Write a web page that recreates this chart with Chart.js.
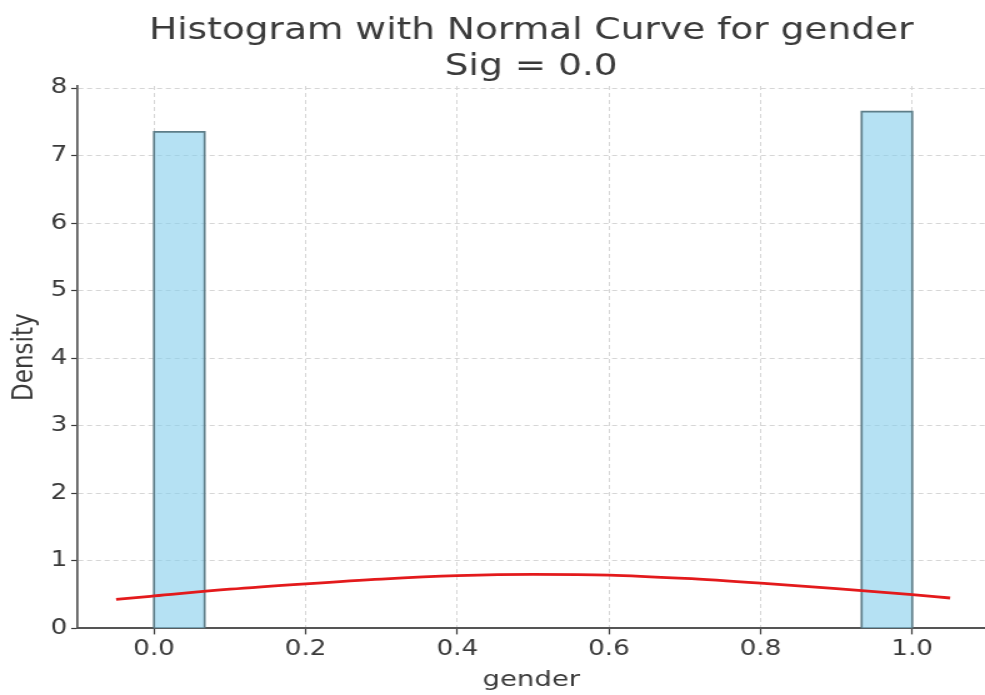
<!DOCTYPE html>
<html>
<head>
<meta charset="utf-8">
<script src="https://cdn.jsdelivr.net/npm/chart.js@4/dist/chart.umd.min.js"></script>
<style>
html,body{margin:0;padding:0;background:#fff;overflow:hidden;}
#wrap{width:985px;height:695px;position:relative;}
#c{display:block;width:985px;height:695px;}
</style>
</head>
<body>
<div id="wrap"><canvas id="c" width="788" height="695" style="width:985px;height:695px;"></canvas></div>
<script>
// Data
const binEdges = [[0.0, 0.0667], [0.9333, 1.0]];
const binDensity = [7.35, 7.65];
const curveX = [-0.05, 0.0, 0.1, 0.2, 0.3, 0.4, 0.5, 0.6, 0.7, 0.8, 0.9, 1.0, 1.05];
const curveY = [0.43, 0.48, 0.58, 0.66, 0.73, 0.78, 0.80, 0.79, 0.74, 0.67, 0.59, 0.50, 0.45];
const xTicks = [0.0, 0.2, 0.4, 0.6, 0.8, 1.0];
const yTicks = [0, 1, 2, 3, 4, 5, 6, 7, 8];
const titleLines = ['Histogram with Normal Curve for gender', 'Sig = 0.0'];

const barDatasets = binEdges.map((e, i) => ({
  type: 'line',
  data: [{x: e[0], y: 0}, {x: e[0], y: binDensity[i]}, {x: e[1], y: binDensity[i]}, {x: e[1], y: 0}],
  borderColor: '#5d7d88',
  borderWidth: 1.7,
  backgroundColor: 'rgba(135,206,235,0.62)',
  fill: 'origin',
  pointRadius: 0,
  tension: 0,
  order: 2
}));

const curveDataset = {
  type: 'line',
  data: curveX.map((x, i) => ({x: x, y: curveY[i]})),
  borderColor: '#e31a1c',
  borderWidth: 2.8,
  fill: false,
  pointRadius: 0,
  cubicInterpolationMode: 'monotone',
  order: 1
};

const textColor = '#3a3a3a';
const font = 'DejaVu Sans';

new Chart(document.getElementById('c'), {
  type: 'line',
  data: { datasets: [...barDatasets, curveDataset] },
  options: {
    responsive: false,
    animation: false,
    devicePixelRatio: 1,
    layout: { padding: { left: 6, right: 0, top: 13, bottom: 2 } },
    plugins: {
      legend: { display: false },
      tooltip: { enabled: false },
      title: {
        display: true,
        text: titleLines,
        color: textColor,
        fullSize: false,
        font: { family: font, size: 30, weight: 'normal', lineHeight: 1.2 },
        padding: { top: 0, bottom: 1 }
      }
    },
    scales: {
      x: {
        type: 'linear',
        min: -0.101,
        max: 1.096,
        afterBuildTicks: (s) => { s.ticks = xTicks.map(v => ({value: v})); },
        ticks: {
          color: textColor,
          font: { family: font, size: 21 },
          padding: 3,
          maxRotation: 0,
          callback: (v) => v.toFixed(1)
        },
        grid: {
          color: '#d6d6d6',
          lineWidth: 1,
          tickColor: '#3a3a3a',
          tickLength: 6,
          tickWidth: 1.2,
          drawOnChartArea: true
        },
        border: { display: true, color: '#555', width: 2, dash: [4, 3] },
        title: {
          display: true,
          text: 'gender',
          color: textColor,
          font: { family: font, size: 22 },
          padding: { top: 1, bottom: 0 }
        }
      },
      y: {
        type: 'linear',
        min: 0,
        max: 8.03,
        afterBuildTicks: (s) => { s.ticks = yTicks.map(v => ({value: v})); },
        ticks: {
          color: textColor,
          font: { family: font, size: 21 },
          padding: 3
        },
        grid: {
          color: '#d6d6d6',
          lineWidth: 1,
          tickColor: '#3a3a3a',
          tickLength: 5,
          tickWidth: 1.2
        },
        border: { display: true, color: '#555', width: 1.7, dash: [4, 3] },
        title: {
          display: true,
          text: 'Density',
          color: textColor,
          font: { family: font, size: 23 },
          padding: { top: 0, bottom: 4 }
        }
      }
    }
  }
});
</script>
</body>
</html>
